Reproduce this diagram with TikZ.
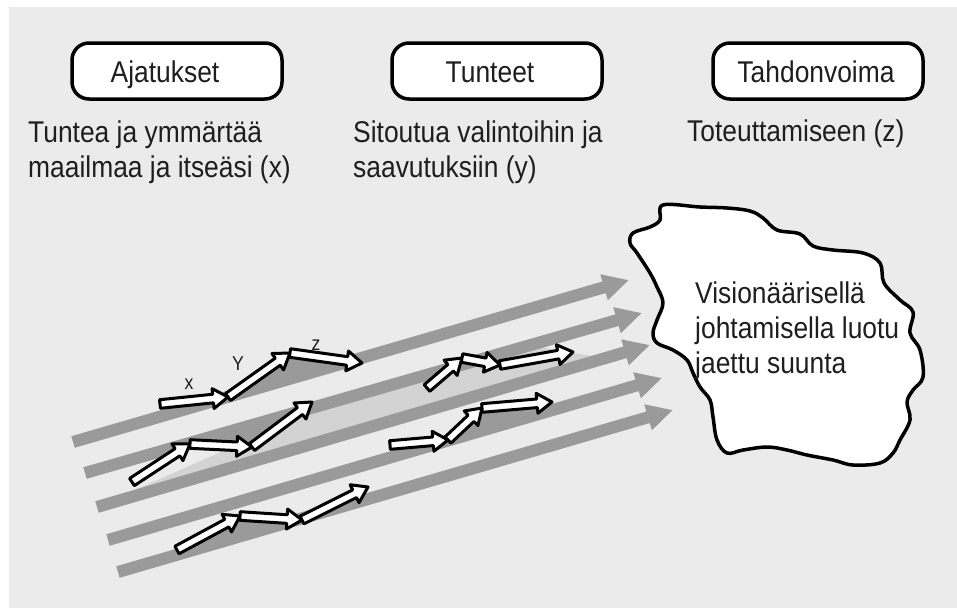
\documentclass[tikz,border=0pt]{standalone}
\usepackage{fontspec}
\setmainfont{Liberation Sans}[FakeStretch=0.88]
\usetikzlibrary{arrows.meta,calc}
\definecolor{bg}{HTML}{ECEBEC}
\definecolor{lanegrey}{HTML}{9A9A9A}
\definecolor{bandgrey}{HTML}{D3D3D3}
\definecolor{ink}{HTML}{1E1E1E}
\tikzset{
  lane/.style={draw=lanegrey, line width=12pt, -{Triangle[length=26pt,width=25pt]}},
  smallarrow/.style={draw=black, fill=white, line width=3pt, line join=round},
  shadowfill/.style={fill=lanegrey},
  headbox/.style={draw=black, fill=white, line width=3.5pt, rounded corners=17pt,
    minimum width=210pt, minimum height=56pt, inner sep=0pt, text=ink,
    text height=22pt, text depth=0pt,
    font=\fontsize{30}{35}\selectfont},
  desc/.style={align=left, inner sep=0pt, text=ink, font=\fontsize{30}{35}\selectfont},
  lbl/.style={inner sep=0pt, text=ink, font=\fontsize{20}{22}\selectfont},
  cloudshape/.style={draw=black, fill=white, line width=3.5pt, line join=round}
}
\newcommand{\blockarr}[2]{%
  \coordinate (hb) at ($(#2)!15pt!(#1)$);
  \draw[smallarrow] ($(#1)!4.3pt!90:(#2)$) -- ($(hb)!4.3pt!-90:(#1)$) -- ($(hb)!10pt!-90:(#1)$)
    -- (#2) -- ($(hb)!10pt!90:(#1)$) -- ($(hb)!4.3pt!90:(#1)$) -- ($(#1)!4.3pt!-90:(#2)$) -- cycle;}
\begin{document}
\begin{tikzpicture}[x=1pt,y=-1pt]
\useasboundingbox (0,0) rectangle (957,608);
\fill[white] (0,0) rectangle (957,608);
\fill[bg] (9,7) rectangle (957,608);

% header boxes
\node[headbox] (b1) at (177,71) {Ajatukset\kern24pt};
\node[headbox] (b2) at (497,71) {Tunteet\kern14pt};
\node[headbox] (b3) at (818,71) {Tahdonvoima\kern4pt};

% descriptions (base anchor = last line)
\node[desc, anchor=base west] (t1) at (28,177) {Tuntea ja ymmärtää\\maailmaa ja itseäsi (x)};
\node[desc, anchor=base west] (t2) at (353,177) {Sitoutua valintoihin ja\\saavutuksiin (y)};
\node[desc, anchor=base west] (t3) at (687,141) {Toteuttamiseen (z)};

% lanes
\coordinate (l1s) at (73,442);  \coordinate (l1e) at (629,280);
\coordinate (l2s) at (85,473);  \coordinate (l2e) at (642,313);
\coordinate (l3s) at (97,507);  \coordinate (l3e) at (650,345);
\coordinate (l4s) at (108,540); \coordinate (l4e) at (662,378);
\coordinate (l5s) at (118,572); \coordinate (l5e) at (673,410);

\fill[bandgrey] (135,490) -- (300,417) -- (540,347) -- (592,356) -- cycle;
\foreach \i in {1,...,5} {\draw[lane] (l\i s) -- (l\i e);}

% small arrow groups
\coordinate (a0) at (160,404); \coordinate (a1) at (228,397); \coordinate (a2) at (290,353); \coordinate (a3) at (362,363);
\coordinate (b0) at (132,482); \coordinate (bb1) at (190,444); \coordinate (bb2) at (252,447); \coordinate (bb3) at (312,402);
\coordinate (c0) at (177,550); \coordinate (c1) at (240,516); \coordinate (c2) at (302,520); \coordinate (c3) at (368,487);
\coordinate (d0) at (427,388); \coordinate (d1) at (462,358); \coordinate (d2) at (500,365); \coordinate (d3) at (573,352);
\coordinate (e0) at (390,445); \coordinate (e1) at (448,440); \coordinate (e2) at (482,408); \coordinate (e3) at (552,402);

\fill[shadowfill] (a1) -- (a2) -- (a3) -- cycle;
\fill[shadowfill] (bb1) -- (bb2) -- (bb3) -- cycle;
\fill[shadowfill] (c0) -- (c1) -- (c2) -- cycle;
\fill[shadowfill] (e1) -- (e2) -- (e3) -- cycle;

\blockarr{a0}{a1}\blockarr{a1}{a2}\blockarr{a2}{a3}
\blockarr{b0}{bb1}\blockarr{bb1}{bb2}\blockarr{bb2}{bb3}
\blockarr{c0}{c1}\blockarr{c1}{c2}\blockarr{c2}{c3}
\blockarr{d0}{d1}\blockarr{d1}{d2}\blockarr{d2}{d3}
\blockarr{e0}{e1}\blockarr{e1}{e2}\blockarr{e2}{e3}

\node[lbl] (lx) at (189,384) {x};
\node[lbl] (ly) at (238,364) {Y};
\node[lbl] (lz) at (316,345) {z};

% cloud
\draw[cloudshape] plot[smooth cycle, tension=0.6] coordinates {
 (663,205) (700,207) (727,208) (750,211) (763,218) (777,230) (800,234) (813,246)
 (833,250) (863,253) (880,263) (884,283) (900,300) (913,312) (910,333) (920,350)
 (923,377) (913,390) (907,402) (910,420) (900,440) (893,453) (880,463) (853,465)
 (833,460) (807,455) (787,450) (767,447) (743,450) (727,453) (717,440) (713,417)
 (710,400) (700,387) (693,373) (687,360) (673,350) (657,343) (653,333) (657,320)
 (663,303) (657,287) (650,273) (637,253) (630,243) (633,233) (650,227) (660,220)};
\node[desc, anchor=base west] (ct) at (695,373) {Visionäärisellä\\johtamisella luotu\\jaettu suunta};
\end{tikzpicture}
\end{document}
